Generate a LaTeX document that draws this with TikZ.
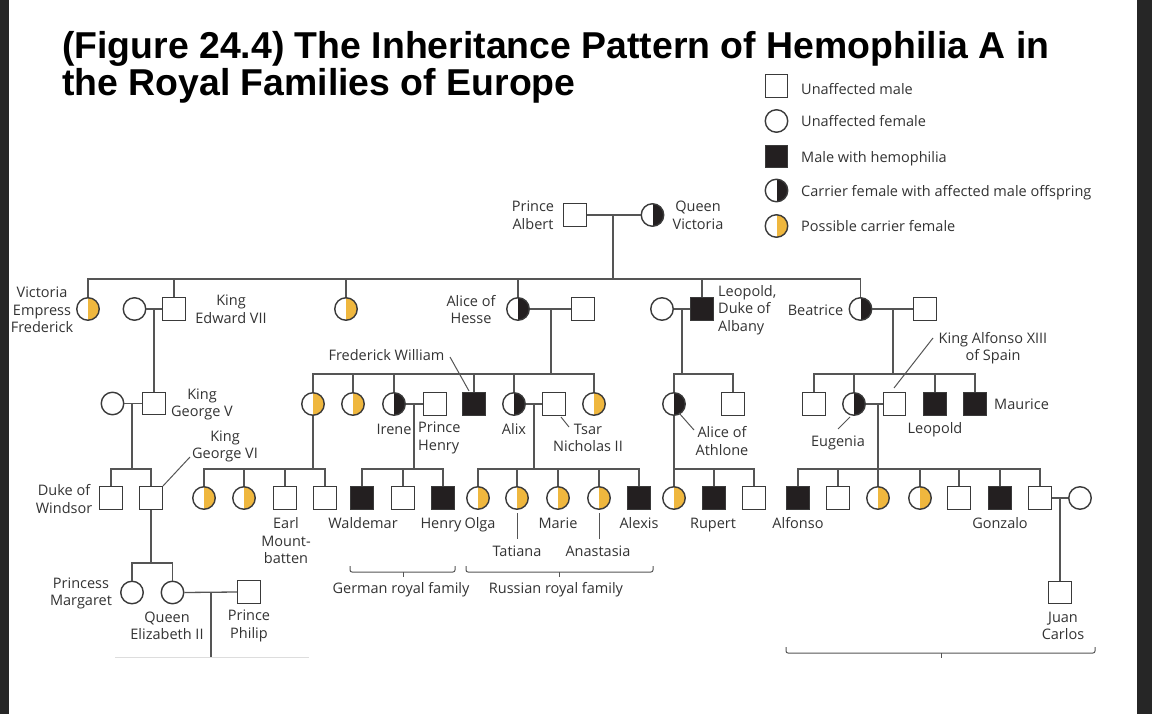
\documentclass[tikz,border=0pt]{standalone}
\usepackage{fontspec}
\setmainfont{Open Sans}
\newfontfamily\titlefont{Liberation Sans}
\definecolor{darkbg}{HTML}{262626}
\definecolor{symline}{HTML}{3A3A3A}
\definecolor{linegray}{HTML}{555555}
\definecolor{fillblack}{HTML}{231F20}
\definecolor{carrieryel}{HTML}{EFB73E}
\definecolor{txt}{HTML}{333333}
\definecolor{faint}{HTML}{DDDDDD}
\newcommand{\lblfont}{\fontsize{14.5}{17.5}\selectfont}
\tikzset{
  sym/.style={draw=symline, line width=1.4pt, fill=white, inner sep=0pt, minimum size=22.5pt},
  malesym/.style={sym, rectangle},
  femsym/.style={sym, circle},
  affsym/.style={sym, rectangle, fill=fillblack},
  carsym/.style={sym, circle, path picture={\fill[fillblack] (path picture bounding box.north) rectangle (path picture bounding box.south east);}},
  possym/.style={sym, circle, path picture={\fill[carrieryel] (path picture bounding box.north) rectangle (path picture bounding box.south east);}},
  conn/.style={draw=linegray, line width=1.3pt},
  leader/.style={draw=linegray, line width=1pt},
  lbl/.style={text=txt, font=\lblfont, align=center, inner sep=0pt},
  lbll/.style={text=txt, font=\lblfont, align=left, inner sep=0pt, anchor=west},
  nodesc/.style={text depth=0pt},
}
\begin{document}
\begin{tikzpicture}[x=1pt, y=-1pt]
\useasboundingbox (0,0) rectangle (1152,714);
\fill[white] (0,0) rectangle (1152,714);
\fill[darkbg] (0,0) rectangle (8.5,714);
\fill[darkbg] (1137,0) rectangle (1152,714);

% Title
\node[anchor=base west, inner sep=0pt, font=\titlefont\bfseries\fontsize{37.4}{40}\selectfont] (title1) at (62,59) {(Figure 24.4) The Inheritance Pattern of Hemophilia A in};
\node[anchor=base west, inner sep=0pt, font=\titlefont\bfseries\fontsize{37.4}{40}\selectfont] (title2) at (62,96) {the Royal Families of Europe};

% Legend
\node[malesym] (lg1) at (776.5,86) {};
\node[femsym] (lg2) at (776.5,121) {};
\node[affsym] (lg3) at (776.5,156.5) {};
\node[carsym] (lg4) at (776.5,190.5) {};
\node[possym] (lg5) at (776.5,226) {};
\node[lbll, nodesc] (lgt1) at (801,89) {Unaffected male};
\node[lbll, nodesc] (lgt2) at (801,121) {Unaffected female};
\node[lbll, nodesc] (lgt3) at (801,157) {Male with hemophilia};
\node[lbll, nodesc] (lgt4) at (801,191) {Carrier female with affected male offspring};
\node[lbll, nodesc] (lgt5) at (801,226) {Possible carrier female};

% bar levels
\coordinate (barI) at (0,279);
\coordinate (barII) at (0,374);
\coordinate (barIII) at (0,469);
\coordinate (barIV) at (0,563);

% Generation I
\node[malesym] (albert) at (575,215) {};
\node[carsym] (victoria) at (652.5,215) {};
\node[lbl] (albertl) at (533,215.5) {Prince\\Albert};
\node[lbl] (victorial) at (698,215.5) {Queen\\Victoria};
\coordinate (jAV) at (613,215);
\draw[conn] (albert.east) -- (victoria.west);
\draw[conn] (jAV) -- (jAV |- barI);

% Generation II
\node[possym] (vef) at (88,309) {};
\node[femsym] (edwife) at (134.5,309) {};
\node[malesym] (edward) at (174,309) {};
\node[possym] (dau3) at (346,309) {};
\node[carsym] (alice) at (518,309) {};
\node[malesym] (alicehus) at (583,309) {};
\node[femsym] (leowife) at (662,309) {};
\node[affsym] (leopold) at (702,309) {};
\node[carsym] (beatrice) at (860.5,309) {};
\node[malesym] (beahus) at (925,309) {};

\draw[conn] (vef.north) -- (vef.north |- barI) -- (beatrice.north |- barI) -- (beatrice.north);
\foreach \n in {edward,dau3,alice,leopold} \draw[conn] (\n.north) -- (\n.north |- barI);

\node[lbl] (vefl) at (42,310) {Victoria\\Empress\\Frederick};
\node[lbl] (edwardl) at (231,309.5) {King\\Edward VII};
\node[lbl] (alicel) at (471,309.5) {Alice of\\Hesse};
\node[lbll] (leopoldl) at (718,310) {Leopold,\\Duke of\\Albany};
\node[lbl] (beatricel) at (815.5,310) {Beatrice};

% marriages gen II
\coordinate (jEd) at (154,309);
\coordinate (jAH) at (551,309);
\coordinate (jLe) at (682,309);
\coordinate (jBe) at (893,309);
\draw[conn] (edwife.east) -- (edward.west);
\draw[conn] (alice.east) -- (alicehus.west);
\draw[conn] (leowife.east) -- (leopold.west);
\draw[conn] (beatrice.east) -- (beahus.west);

% Generation III
\node[femsym] (geo5wife) at (112.5,403.5) {};
\node[malesym] (george5) at (154,403.5) {};
\draw[conn] (jEd) -- (george5.north);
\draw[conn] (geo5wife.east) -- (george5.west);
\node[lbl] (george5l) at (202,404.5) {King\\George V};

\node[possym] (h1) at (313,404) {};
\node[possym] (h2) at (353,404) {};
\node[carsym] (irene) at (394,404) {};
\node[malesym] (henry) at (435,404) {};
\node[affsym] (fw) at (474,404) {};
\node[carsym] (alix) at (514,404) {};
\node[malesym] (nicholas) at (554,404) {};
\node[possym] (h8) at (594,404) {};
\draw[conn] (jAH) -- (jAH |- barII);
\draw[conn] (h1.north) -- (h1.north |- barII) -- (h8.north |- barII) -- (h8.north);
\foreach \n in {h2,irene,fw,alix} \draw[conn] (\n.north) -- (\n.north |- barII);
\draw[conn] (irene.east) -- (henry.west);
\draw[conn] (alix.east) -- (nicholas.west);

\node[lbl] (fwl) at (386.5,355) {Frederick William};
\coordinate (fwA) at (450,357);
\coordinate (fwB) at (469,391);
\draw[leader] (fwA) -- (fwB);
\node[lbl] (irenel) at (394,429) {Irene};
\node[lbll] (henryl) at (418,438) {Prince\\Henry};
\node[lbl] (alixl) at (514,429) {Alix};
\node[lbl] (nicholasl) at (588,438) {Tsar\\Nicholas II};
\coordinate (tsA) at (561,417);
\coordinate (tsB) at (569,427);
\draw[leader] (tsA) -- (tsB);

\node[carsym] (athlone) at (674,404) {};
\node[malesym] (l2) at (733,404) {};
\draw[conn] (jLe) -- (jLe |- barII);
\draw[conn] (athlone.north) -- (athlone.north |- barII) -- (l2.north |- barII) -- (l2.north);
\node[lbl] (athlonel) at (722,441) {Alice of\\Athlone};
\coordinate (atA) at (679,413);
\coordinate (atB) at (694,430);
\draw[leader] (atA) -- (atB);

\node[malesym] (b1) at (814,404) {};
\node[carsym] (eugenia) at (854,404) {};
\node[malesym] (alfonso13) at (894.5,404) {};
\node[affsym] (leopoldB) at (935,404) {};
\node[affsym] (maurice) at (975,404) {};
\draw[conn] (jBe) -- (jBe |- barII);
\draw[conn] (b1.north) -- (b1.north |- barII) -- (maurice.north |- barII) -- (maurice.north);
\foreach \n in {eugenia,leopoldB} \draw[conn] (\n.north) -- (\n.north |- barII);
\draw[conn] (eugenia.east) -- (alfonso13.west);
\node[lbl] (alfonso13l) at (993,348) {King Alfonso XIII\\of Spain};
\coordinate (afA) at (894,388);
\coordinate (afB) at (933,338);
\draw[leader] (afA) -- (afB);
\node[lbll] (mauricel) at (994,404) {Maurice};
\node[lbl] (leopoldBl) at (935,430) {Leopold};
\node[lbl, nodesc] (eugenial) at (838,441) {Eugenia};
\coordinate (euA) at (850,417);
\coordinate (euB) at (838,429);
\draw[leader] (euA) -- (euB);

% Generation IV junctions
\coordinate (jG5) at (132,403.5);
\coordinate (jIr) at (414,404);
\coordinate (jAx) at (534,404);
\coordinate (jEu) at (878,404);

% George V children
\node[malesym] (windsor) at (111,498) {};
\node[malesym] (george6) at (151,498) {};
\draw[conn] (jG5) -- (jG5 |- barIII);
\draw[conn] (windsor.north) -- (windsor.north |- barIII) -- (george6.north |- barIII) -- (george6.north);
\node[lbl] (windsorl) at (64,499) {Duke of\\Windsor};
\node[lbl] (george6l) at (225,446.5) {King\\George VI};
\coordinate (g6B) at (190,457);
\draw[leader] (george6.north east) -- (g6B);

% Victoria of Hesse children
\node[possym] (vh1) at (204,498) {};
\node[possym] (vh2) at (244,498) {};
\node[malesym] (vh3) at (285,498) {};
\node[malesym] (vh4) at (325,498) {};
\draw[conn] (h1.south) -- (h1.south |- barIII);
\draw[conn] (vh1.north) -- (vh1.north |- barIII) -- (vh4.north |- barIII) -- (vh4.north);
\foreach \n in {vh2,vh3} \draw[conn] (\n.north) -- (\n.north |- barIII);
\node[lbl] (vh3l) at (286,541) {Earl\\Mount-\\batten};

% Irene children
\node[affsym] (waldemar) at (362,498) {};
\node[malesym] (ir2) at (403,498) {};
\node[affsym] (henryjr) at (443,498) {};
\draw[conn] (jIr) -- (jIr |- barIII);
\draw[conn] (waldemar.north) -- (waldemar.north |- barIII) -- (henryjr.north |- barIII) -- (henryjr.north);
\draw[conn] (ir2.north) -- (ir2.north |- barIII);
\node[lbl] (waldemarl) at (363,523) {Waldemar};
\node[lbl, nodesc] (henryjrl) at (441,523) {Henry};

% Alix children
\node[possym] (olga) at (478,498) {};
\node[possym] (tatiana) at (517,498) {};
\node[possym] (marie) at (558,498) {};
\node[possym] (anastasia) at (599,498) {};
\node[affsym] (alexis) at (639,498) {};
\draw[conn] (jAx) -- (jAx |- barIII);
\draw[conn] (olga.north) -- (olga.north |- barIII) -- (alexis.north |- barIII) -- (alexis.north);
\foreach \n in {tatiana,marie,anastasia} \draw[conn] (\n.north) -- (\n.north |- barIII);
\node[lbl, nodesc] (olgal) at (480,523) {Olga};
\node[lbl] (mariel) at (558,523) {Marie};
\node[lbl] (alexisl) at (639,523) {Alexis};
\node[lbl] (tatianal) at (517,551) {Tatiana};
\node[lbl] (anastasial) at (598,551) {Anastasia};
\coordinate (taA) at (517,513);
\coordinate (taB) at (517,539);
\coordinate (anA) at (599,513);
\coordinate (anB) at (599,539);
\draw[leader] (taA) -- (taB);
\draw[leader] (anA) -- (anB);

% Athlone children
\node[possym] (at1) at (674,498) {};
\node[affsym] (rupert) at (714,498) {};
\node[malesym] (at3) at (754,498) {};
\draw[conn] (athlone.south) -- (at1.north);
\draw[conn] (at1.north) -- (at1.north |- barIII) -- (at3.north |- barIII) -- (at3.north);
\draw[conn] (rupert.north) -- (rupert.north |- barIII);
\node[lbl, nodesc] (rupertl) at (713,523) {Rupert};

% Eugenia children
\node[affsym] (alfonsoJ) at (798,498) {};
\node[malesym] (s2) at (838,498) {};
\node[possym] (s3) at (878,498) {};
\node[possym] (s4) at (920,498) {};
\node[malesym] (s5) at (959,498) {};
\node[affsym] (gonzalo) at (1000,498) {};
\node[malesym] (jf) at (1040,498) {};
\node[femsym] (jfwife) at (1080,498) {};
\draw[conn] (jEu) -- (jEu |- barIII);
\draw[conn] (alfonsoJ.north) -- (alfonsoJ.north |- barIII) -- (jf.north |- barIII) -- (jf.north);
\foreach \n in {s2,s3,s4,s5,gonzalo} \draw[conn] (\n.north) -- (\n.north |- barIII);
\draw[conn] (jf.east) -- (jfwife.west);
\node[lbl] (alfonsoJl) at (798,523) {Alfonso};
\node[lbl] (gonzalol) at (1000,523) {Gonzalo};

% Generation V
\node[femsym] (margaret) at (132,592.5) {};
\node[femsym] (elizabeth) at (172.5,592.5) {};
\node[malesym] (philip) at (249,592) {};
\draw[conn] (george6.south) -- (george6.south |- barIV);
\draw[conn] (margaret.north) -- (margaret.north |- barIV) -- (elizabeth.north |- barIV) -- (elizabeth.north);
\draw[conn] (elizabeth.east) -- (philip.west);
\coordinate (jEP) at (211,592);
\coordinate (jEPb) at (211,657);
\draw[conn] (jEP) -- (jEPb);
\coordinate (fl1) at (115,657);
\coordinate (fl2) at (309,657);
\draw[draw=faint, line width=1pt] (fl1) -- (fl2);
\node[lbl] (margaretl) at (81,593.5) {Princess\\Margaret};
\node[lbl] (elizabethl) at (167,626) {Queen\\Elizabeth II};
\node[lbl] (philipl) at (249,626) {Prince\\Philip};

\node[malesym] (juan) at (1060,592.5) {};
\coordinate (jJ) at (1060,498);
\draw[conn] (jJ) -- (juan.north);
\node[lbl] (juanl) at (1063,626) {Juan\\Carlos};

% Braces
\draw[leader, rounded corners=2pt] (350,566) -- (350,572) -- (455,572) -- (455,566);
\draw[leader] (403,572) -- (403,577);
\draw[leader, rounded corners=2pt] (466,566) -- (466,572) -- (653,572) -- (653,566);
\draw[leader] (559,572) -- (559,577);
\draw[leader, rounded corners=2pt] (786,647) -- (786,653) -- (1095,653) -- (1095,647);
\draw[leader] (941,653) -- (941,658);
\node[lbl, nodesc] (germanl) at (401,588) {German royal family};
\node[lbl, nodesc] (russianl) at (556,588) {Russian royal family};
\end{tikzpicture}
\end{document}
